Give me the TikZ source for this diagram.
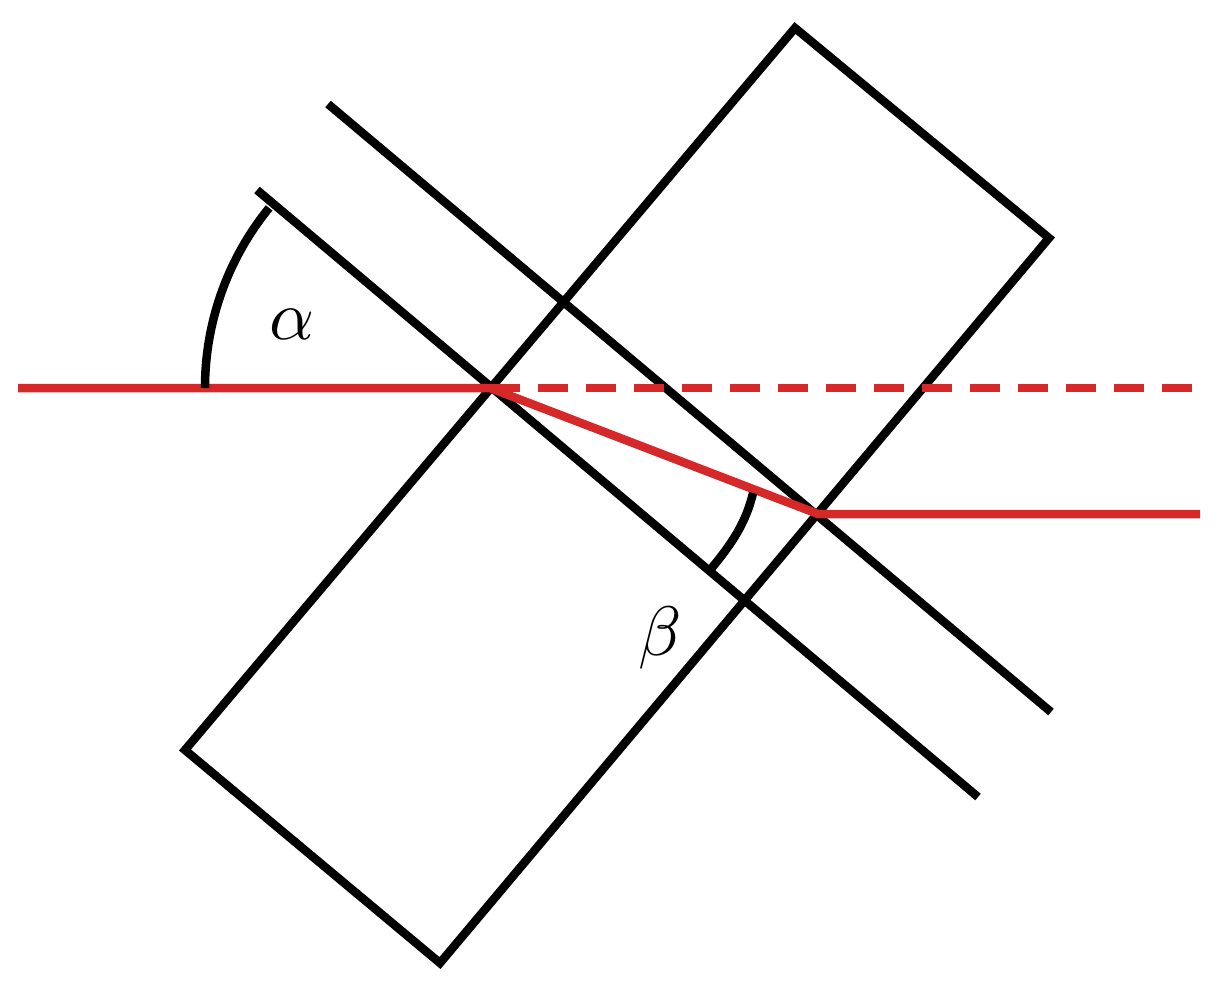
\documentclass[tikz,border=0pt]{standalone}
\begin{document}
\begin{tikzpicture}[x=1pt,y=-1pt,
  blk/.style={line width=8.5pt,black},
  ray/.style={line width=8.5pt,color={rgb,255:red,214;green,40;blue,40}},
  lbl/.style={inner sep=0pt,scale=7}]
\useasboundingbox (0,0) rectangle (1228,986);
\coordinate (A) at (795,28);
\coordinate (B) at (1049,238);
\coordinate (C) at (440,963);
\coordinate (D) at (185,750);
\draw[blk,line join=miter] (A) -- (B) -- (C) -- (D) -- cycle;
\coordinate (l1a) at (257,190); \coordinate (l1b) at (978,797);
\coordinate (l2a) at (328,104); \coordinate (l2b) at (1051,712);
\draw[blk] (l1a) -- (l1b);
\draw[blk] (l2a) -- (l2b);
\coordinate (s) at (18,388);
\coordinate (p) at (490,388);
\coordinate (q) at (818,514);
\coordinate (e1) at (1200,388);
\coordinate (e2) at (1200,514);
\draw[ray] (s) -- (p) -- (q) -- (e2);
\draw[ray,dash pattern=on 30pt off 18pt] (p) -- (e1);
\draw[blk] (205,388) arc[start angle=180,end angle=219.2,radius=285];
\coordinate (b1) at (753,493);
\coordinate (b2) at (710,570);
\draw[blk] (b1) .. controls (746,523) and (731,545) .. (b2);
\node[lbl] (alpha) at (292,324) {$\alpha$};
\node[lbl] (beta) at (660,638) {$\beta$};
\end{tikzpicture}
\end{document}
